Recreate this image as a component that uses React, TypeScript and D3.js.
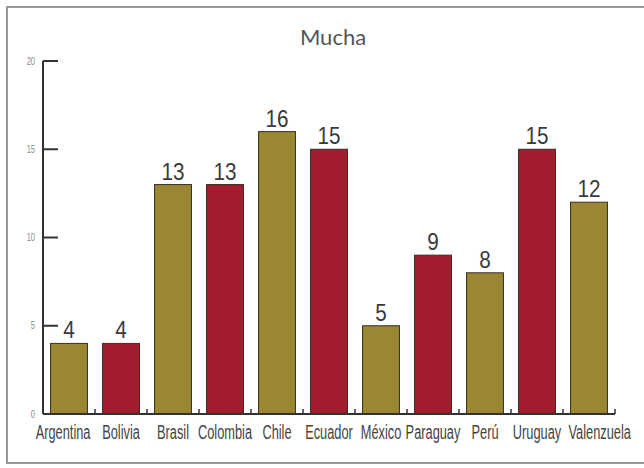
import React from "react";
import * as d3 from "d3";

const categories = ["Argentina", "Bolivia", "Brasil", "Colombia", "Chile", "Ecuador", "México", "Paraguay", "Perú", "Uruguay", "Valenzuela"];
const values = [4, 4, 13, 13, 16, 15, 5, 9, 8, 15, 12];
const barColors = ["#9b8633", "#a11c2e", "#9b8633", "#a11c2e", "#9b8633", "#a11c2e", "#9b8633", "#a11c2e", "#9b8633", "#a11c2e", "#9b8633"];
const yTicks = [0, 5, 10, 15, 20];
const title = "Mucha";

const W = 644;
const H = 468;

export default function App() {
  const x = d3.scaleBand<string>().domain(categories).range([43, 615]).paddingInner(0.29).paddingOuter(0.145);
  const y = d3.scaleLinear().domain([0, 20]).range([414, 61]);
  const step = x.step();
  const boundaries = categories.map((c) => (x(c) as number) - (step - x.bandwidth()) / 2 + step);
  const n = categories.length;

  const labelPos = (c: string, i: number) => {
    const bx = x(c) as number;
    if (i === 0) return { px: bx + x.bandwidth() + 3, anchor: "end" };
    if (i === n - 1) return { px: bx - 2, anchor: "start" };
    return { px: bx + x.bandwidth() / 2, anchor: "middle" };
  };

  return (
    <svg width={W} height={H} style={{ position: "absolute", left: 0, top: 0, background: "#fff" }}>
      <rect x={0} y={0} width={W} height={H} fill="#fff" />
      <rect x={7} y={7} width={W + 20} height={456} fill="#fff" stroke="#9a9a9a" strokeWidth={2} />
      <text x={333} y={45} textAnchor="middle" fontFamily="Lato, 'Open Sans', sans-serif" fontSize={22} fill="#555">
        {title}
      </text>
      {categories.map((c, i) => (
        <rect
          key={c}
          x={x(c)}
          y={y(values[i])}
          width={x.bandwidth()}
          height={y(0) - y(values[i])}
          fill={barColors[i]}
          stroke="#3b2f22"
          strokeWidth={1}
        />
      ))}
      {categories.map((c, i) => {
        const cx = (x(c) as number) + x.bandwidth() / 2;
        return (
          <text
            key={c + "v"}
            transform={`translate(${cx},${y(values[i]) - 5}) scale(0.9,1)`}
            textAnchor="middle"
            fontFamily="'Liberation Sans', Arial, sans-serif"
            fontSize={23}
            fill="#3a3a3a"
          >
            {values[i]}
          </text>
        );
      })}
      <line x1={43} x2={43} y1={y(20)} y2={y(0)} stroke="#333" strokeWidth={2} />
      {yTicks.map((t) => (
        <g key={t}>
          {t > 0 && <line x1={43} x2={58} y1={y(t)} y2={y(t)} stroke="#333" strokeWidth={2} />}
          <text
            transform={`translate(35,${y(t) + 3.5}) scale(0.75,1)`}
            textAnchor="end"
            fontFamily="'Liberation Sans', Arial, sans-serif"
            fontSize={10}
            fill="#888"
          >
            {t}
          </text>
        </g>
      ))}
      <line x1={43} x2={615} y1={y(0)} y2={y(0)} stroke="#333" strokeWidth={2} />
      {boundaries.map((b, i) => (
        <line key={i} x1={b} x2={b} y1={y(0)} y2={y(0) - 5} stroke="#333" strokeWidth={1.5} />
      ))}
      {categories.map((c, i) => {
        const { px, anchor } = labelPos(c, i);
        return (
          <text
            key={c + "l"}
            transform={`translate(${px},439) scale(0.64,1)`}
            textAnchor={anchor}
            fontFamily="'Liberation Sans', Arial, sans-serif"
            fontSize={20}
            fill="#444"
          >
            {c}
          </text>
        );
      })}
    </svg>
  );
}
